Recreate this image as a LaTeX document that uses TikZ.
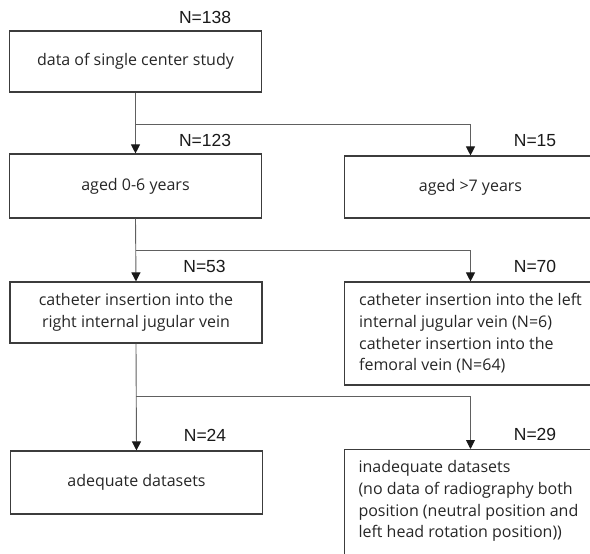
\documentclass[tikz,border=0pt]{standalone}
\usepackage{fontspec}
\setmainfont{Open Sans}
\newfontfamily\nfont{Liberation Sans}
\usetikzlibrary{arrows.meta}
\definecolor{boxgray}{HTML}{3C3C3C}
\definecolor{linegray}{HTML}{606060}
\begin{document}
\begin{tikzpicture}[x=1pt,y=-1pt,
				box/.style={draw=boxgray, line width=1.1pt, minimum width=252pt, inner xsep=14pt,
					text=black!85, font=\fontsize{16}{21.7}\selectfont, align=center},
				sidebox/.style={box, align=left},
				nlab/.style={font=\nfont\fontsize{17.5}{20}\selectfont, text=black!90, anchor=base, inner sep=0pt},
				flow/.style={draw=linegray, line width=0.9pt, -{Triangle[width=9pt,length=9pt,color=black!90]}},
				joint/.style={draw=linegray, line width=0.9pt}
			]
			\useasboundingbox (0,0) rectangle (590,554);
			\clip (0,0) rectangle (590,554);
			% left column
			\node[box, minimum height=61pt] (study) at (135.5,61.5) {data of single center study};
			\node[box, minimum height=64pt] (young) at (135.5,186) {aged 0-6 years};
			\node[box, minimum height=61pt] (rijv) at (136,312.5) {catheter insertion into the\\right internal jugular vein};
			\node[box, minimum height=63pt] (good) at (136.5,482.5) {adequate datasets};
			% right column
			\node[box, minimum height=62pt] (old) at (470.5,187) {aged >7 years};
			\node[sidebox, minimum height=103pt] (other) at (470.5,333.5) {catheter insertion into the left\\internal jugular vein (N=6)\\catheter insertion into the\\femoral vein (N=64)};
			\node[box, anchor=north, inner ysep=11pt] (bad) at (470.5,449) {\parbox[c][130pt][t]{224pt}{inadequate datasets\\(no data of radiography both\\position (neutral position and\\left head rotation position))}};
			% counts
			\node[nlab] (n1) at ([xshift=-57pt,yshift=7pt]study.north east) {N=138};
			\node[nlab] (n2) at ([xshift=-57pt,yshift=7pt]young.north east) {N=123};
			\node[nlab] (n3) at ([xshift=-62pt,yshift=9pt]old.north east) {N=15};
			\node[nlab] (n4) at ([xshift=-58pt,yshift=9pt]rijv.north east) {N=53};
			\node[nlab] (n5) at ([xshift=-62pt,yshift=9pt]other.north east) {N=70};
			\node[nlab] (n6) at ([xshift=-58pt,yshift=9pt]good.north east) {N=24};
			\node[nlab] (n7) at ([xshift=-62pt,yshift=9pt]bad.north east) {N=29};
			% connectors
			\coordinate (j1) at ([yshift=-32pt]study.south);
			\coordinate (j2) at ([yshift=-32pt]young.south);
			\coordinate (j3) at ([yshift=-53pt]rijv.south);
			\draw[flow] (study.south) -- (young.north);
			\draw[flow] (j1) -| (old.north);
			\draw[flow] (young.south) -- (rijv.north);
			\draw[flow] (j2) -| (other.north);
			\draw[flow] (rijv.south) -- (good.north);
			\draw[flow] (j3) -| (bad.north);
		\end{tikzpicture}
\end{document}
